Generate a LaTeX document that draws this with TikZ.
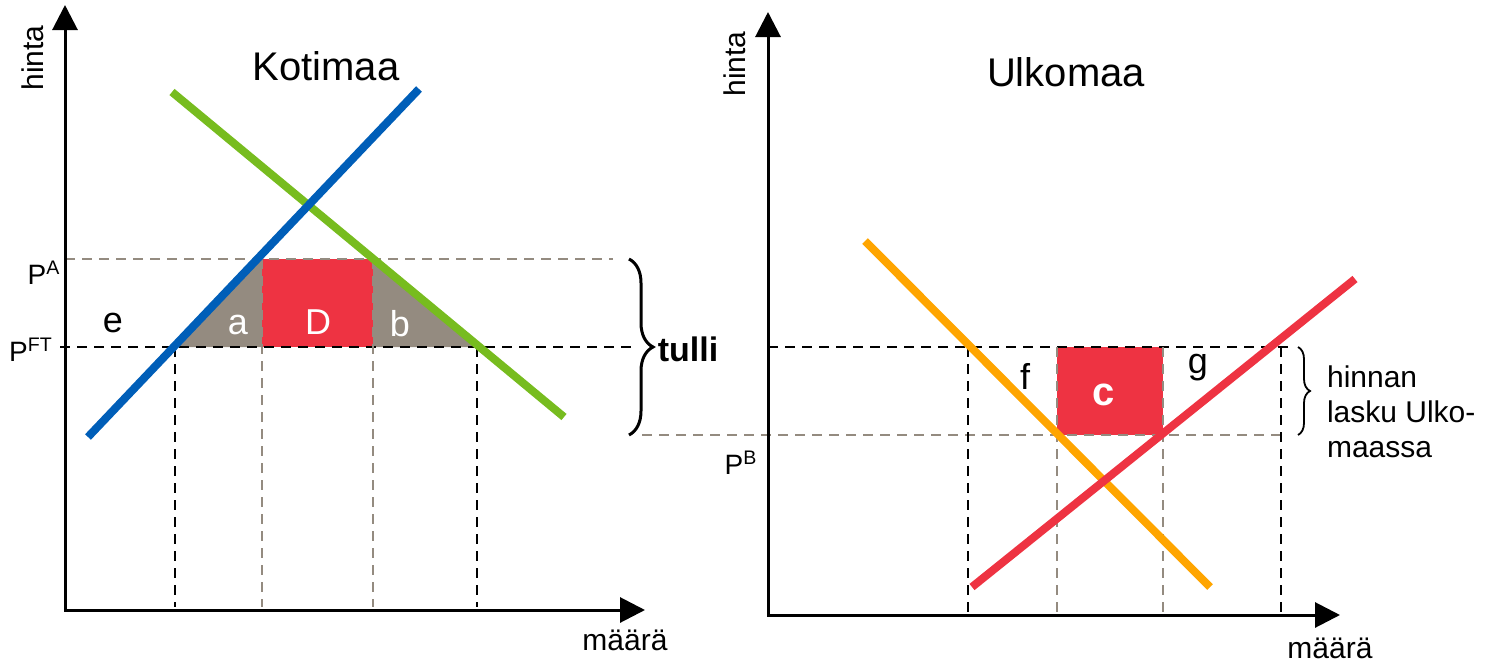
\documentclass[tikz,border=0pt]{standalone}
\usepackage{fontspec}
\setmainfont{Liberation Sans}
\usetikzlibrary{arrows.meta,decorations.pathreplacing}
\definecolor{dgreen}{HTML}{77BC1F}
\definecolor{sblue}{HTML}{005EB8}
\definecolor{tred}{HTML}{EE3342}
\definecolor{forange}{HTML}{FFA500}
\definecolor{tgray}{HTML}{948B80}
\begin{document}
\begin{tikzpicture}[x=0.5pt,y=-0.5pt,
    axis/.style={line width=1.5pt,-{Triangle[length=12.5pt,width=12.5pt]}},
    curve/.style={line width=4pt},
    bdash/.style={line width=1.2pt,dash pattern=on 5pt off 3.5pt},
    gdash/.style={bdash,color=tgray},
    big/.style={font=\fontsize{20}{24}\selectfont},
    lbl/.style={font=\fontsize{18}{22}\selectfont},
    small/.style={font=\fontsize{15}{17.5}\selectfont},
    price/.style={font=\fontsize{14}{16}\selectfont}]
    \useasboundingbox (0,0) rectangle (1490,664);
    % Kotimaa: areas
    \fill[tgray] (175,347) -- (262,259) -- (262,347) -- cycle;
    \fill[tgray] (373,259) -- (373,347) -- (477,347) -- cycle;
    \fill[tred] (262,259) rectangle (373,347);
    % Ulkomaa: area
    \fill[tred] (1057,347) rectangle (1163,435);
    % price lines
    \draw[gdash] (65,259) -- (613,259);
    \draw[bdash] (60,347) -- (632,347);
    \draw[gdash] (642,435) -- (1283,435);
    \draw[bdash] (768,347) -- (1292,347);
    % quantity lines
    \draw[bdash] (175,347) -- (175,607);
    \draw[gdash] (262,259) -- (262,607);
    \draw[gdash] (373,259) -- (373,607);
    \draw[bdash] (477,347) -- (477,607);
    \draw[bdash] (968,347) -- (968,612);
    \draw[gdash] (1057,347) -- (1057,615);
    \draw[gdash] (1163,347) -- (1163,615);
    \draw[bdash] (1281,347) -- (1281,612);
    % curves
    \draw[curve,color=dgreen] (172,92) -- (564,417);
    \draw[curve,color=sblue] (88,437) -- (419,89);
    \draw[curve,color=forange] (865,241) -- (1210,587);
    \draw[curve,color=tred] (972,587) -- (1355,279);
    % axes
    \draw[axis] (65,611) -- (65,5);
    \draw[axis] (64,610) -- (645,610);
    \draw[axis] (768,616) -- (768,12);
    \draw[axis] (767,615) -- (1340,615);
    % braces
    \draw[line width=1.5pt,decorate,decoration={brace,amplitude=12pt}] (629,259) -- (629,435);
    \draw[line width=0.9pt,decorate,decoration={brace,amplitude=6pt}] (1298,347) -- (1298,435);
    % texts
    \node[big] (kotimaa) at (326,66) {Kotimaa};
    \node[big] (ulkomaa) at (1066,72) {Ulkomaa};
    \node[small,rotate=90] (hintaK) at (33,58) {hinta};
    \node[small,rotate=90] (hintaU) at (735,64) {hinta};
    \node[small] (maaraK) at (625,640) {määrä};
    \node[small] (maaraU) at (1330,648) {määrä};
    \node[price] (pa) at (44,273) {P\textsuperscript{A}};
    \node[price] (pft) at (31,350) {P\textsuperscript{FT}};
    \node[price] (pb) at (741,463) {P\textsuperscript{B}};
    \node[lbl] (e) at (113,323) {e};
    \node[lbl,text=white] (a) at (238,325) {a};
    \node[lbl,text=white] (D) at (318,322) {D};
    \node[lbl,text=white] (b) at (400,324) {b};
    \node[font=\fontsize{17}{20}\selectfont\bfseries] (tulli) at (688,349) {tulli};
    \node[lbl] (f) at (1025,376) {f};
    \node[lbl] (g) at (1198,368) {g};
    \node[font=\fontsize{20}{24}\selectfont\bfseries,text=white] (c) at (1104,395) {c};
    \node[small,anchor=west,align=left] (lasku) at (1320,412) {hinnan\\lasku Ulko-\\maassa};
\end{tikzpicture}
\end{document}
